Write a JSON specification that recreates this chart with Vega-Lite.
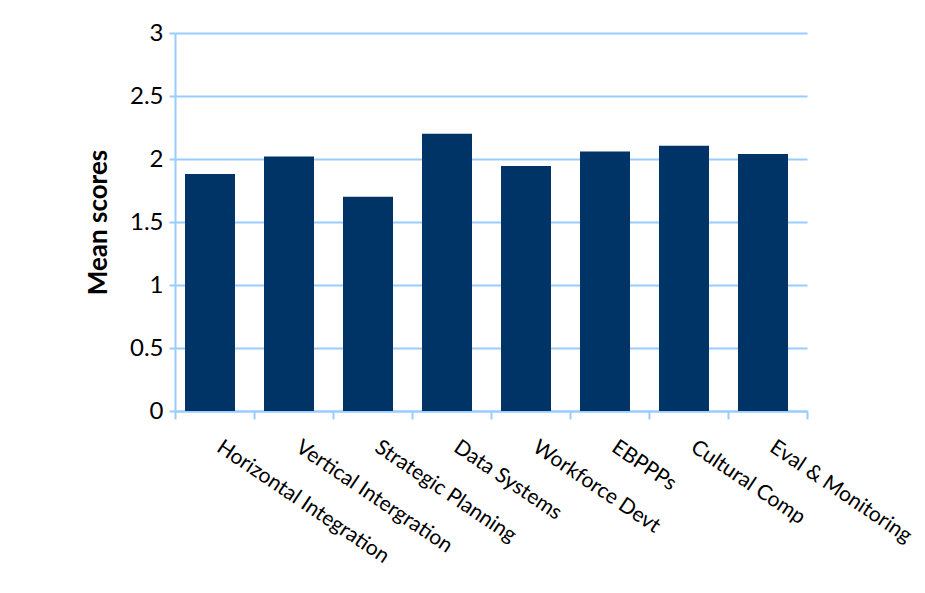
{
  "$schema": "https://vega.github.io/schema/vega-lite/v6.json",
  "autosize": "none",
  "width": 632,
  "height": 378,
  "padding": {"left": 175, "top": 33, "right": 118, "bottom": 182},
  "background": "white",
  "config": {"view": {"stroke": null}, "font": "Lato"},
  "data": {
    "values": [
      {"category": "Horizontal Integration", "score": 1.88},
      {"category": "Vertical Intergration", "score": 2.02},
      {"category": "Strategic Planning", "score": 1.70},
      {"category": "Data Systems", "score": 2.20},
      {"category": "Workforce Devt", "score": 1.945},
      {"category": "EBPPPs", "score": 2.06},
      {"category": "Cultural Comp", "score": 2.105},
      {"category": "Eval & Monitoring", "score": 2.04}
    ]
  },
  "mark": {"type": "bar", "color": "#003366", "xOffset": -4.5, "width": {"band": 0.633}},
  "encoding": {
    "x": {
      "field": "category",
      "type": "nominal",
      "sort": null,
      "scale": {"paddingInner": 0, "paddingOuter": 0},
      "axis": {
        "title": null,
        "domainColor": "#99CCFF",
        "domainWidth": 2,
        "tickColor": "#99CCFF",
        "tickWidth": 2,
        "tickSize": 8,
        "tickBand": "extent",
        "labelAngle": 34,
        "labelAlign": "left",
        "labelBaseline": "top",
        "labelPadding": 17,
        "labelOffset": 10,
        "labelLimit": 0,
        "labelFontSize": 21,
        "labelColor": "black",
        "labelFont": "Lato"
      }
    },
    "y": {
      "field": "score",
      "type": "quantitative",
      "scale": {"domain": [0, 3]},
      "axis": {
        "title": "Mean scores",
        "titleFontSize": 26,
        "titleFontWeight": "bold",
        "titleColor": "black",
        "titleFont": "Lato",
        "titleBaseline": "middle",
        "titleX": -77,
        "titleY": 189,
        "values": [0, 0.5, 1, 1.5, 2, 2.5, 3],
        "format": "~g",
        "grid": true,
        "gridColor": "#99CCFF",
        "gridWidth": 2,
        "domainColor": "#99CCFF",
        "domainWidth": 2,
        "tickColor": "#99CCFF",
        "tickWidth": 2,
        "tickSize": 6,
        "labelPadding": 6,
        "labelFontSize": 24,
        "labelColor": "black",
        "labelFont": "Lato"
      }
    }
  }
}
